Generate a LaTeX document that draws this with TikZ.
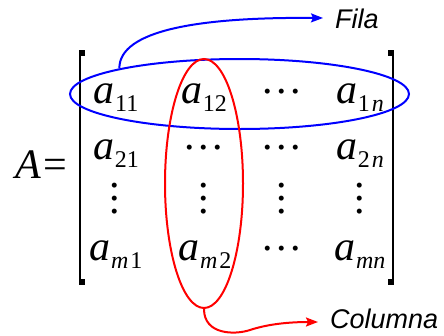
\documentclass[tikz,border=0pt]{standalone}
\usepackage{fontspec}
\setmainfont{Liberation Serif}
\newfontfamily\labelfont{Liberation Sans}
\usetikzlibrary{
  arrows.meta, % For arrow tips
  shapes.geometric % For the ellipses
}

% Element a mit Index
\newcommand{\elem}[1]{\textit{a}\kern0.5pt\raisebox{-8pt}{\fontsize{24}{24}\selectfont #1}}
% Punkte
\newcommand{\hdts}{\raisebox{9.5pt}{.\kern3.5pt.\kern3.5pt.}}
\newcommand{\vdts}{\vbox{\baselineskip=13pt\lineskiplimit=-20pt\hbox{.}\hbox{.}\hbox{.}}}

\begin{document}
\begin{tikzpicture}[
      x=1pt, y=-1pt, % Pixel coordinates, y downwards
      entry/.style={anchor=base, inner sep=0pt, font=\fontsize{42}{42}\selectfont}, % Matrix entries
      ring/.style={draw, ellipse, line width=2pt, inner sep=0pt}, % Row / column marks
      pointer/.style={line width=2pt, -{Stealth[length=12pt, width=9pt, inset=2pt]}}, % Arrows
      tag/.style={anchor=base west, inner sep=0pt, font=\labelfont\itshape\fontsize{27}{27}\selectfont}, % Labels
      bracket/.style={line width=2pt}, % Matrix brackets
    ]
    \useasboundingbox (0,0) rectangle (444,335);

    % Linke Seite
    \node[entry, anchor=base west] (lhs) at (15,178) {\textit{A}\kern3pt=};

    % Klammern
    \draw[bracket] (80,50) -- (80,285);
    \draw[bracket] (393,50) -- (393,285);
    \foreach \x/\y in {79/50, 79/279, 388/50, 388/279}
    \fill (\x,\y) rectangle ++(6,6);

    % Eintraege
    \node[entry] (a11) at (116,103) {\elem{11}};
    \node[entry] (a12) at (204,103) {\elem{12}};
    \node[entry] (h13) at (282,103) {\hdts};
    \node[entry] (a1n) at (360,103) {\elem{1\kern2pt\textit{n}}};

    \node[entry] (a21) at (116,159) {\elem{21}};
    \node[entry] (h22) at (204,159) {\hdts};
    \node[entry] (h23) at (282,159) {\hdts};
    \node[entry] (a2n) at (360,159) {\elem{2\kern2pt\textit{n}}};

    \foreach \x [count=\i] in {115,204,282,360}
    \node[entry] (v\i) at (\x,213) {\vdts};

    \node[entry] (am1) at (116,260) {\elem{\textit{m}\kern2pt1}};
    \node[entry] (am2) at (205,260) {\elem{\textit{m}\kern2pt2}};
    \node[entry] (hm3) at (282,260) {\hdts};
    \node[entry] (amn) at (360,260) {\elem{\textit{mn}}};

    % Markierungen
    \node[ring, blue, minimum width=339, minimum height=70] (fila) at (239.5,94) {};
    \node[ring, red, minimum width=78, minimum height=249] (columna) at (204,183.5) {};

    % Beschriftungen
    \coordinate (filaend) at (323,18);
    \coordinate (colend) at (318,322);
    \node[tag] (filatxt) at (335,28) {Fila};
    \node[tag] (coltxt) at (330,328) {Columna};

    \draw[pointer, blue] (fila.168) .. controls (119,30) and (200,17) .. (filaend);
    \draw[pointer, red] (columna.south) .. controls (204,335) and (235,335) .. (250,330)
    .. controls (265,325) and (285,322) .. (colend);
  \end{tikzpicture}
\end{document}
